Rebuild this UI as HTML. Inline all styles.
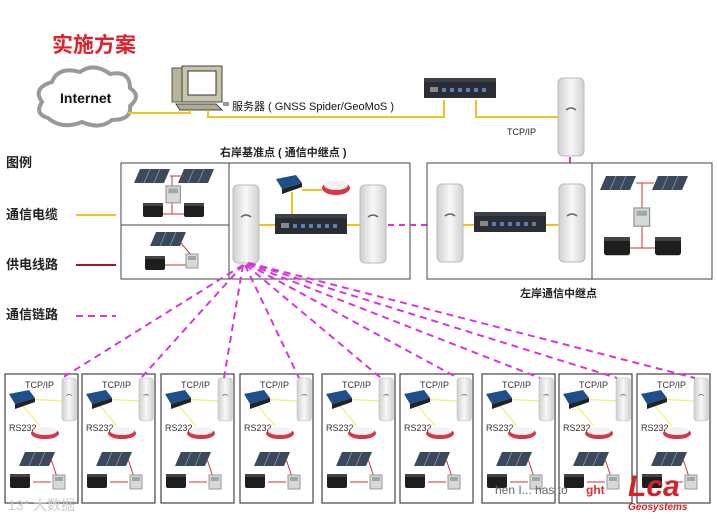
<!DOCTYPE html>
<html><head><meta charset="utf-8"><style>
body{margin:0;background:#fff;width:717px;height:519px;overflow:hidden;font-family:"Liberation Sans","Noto Sans CJK SC",sans-serif}
svg text{font-family:"Liberation Sans","Noto Sans CJK SC",sans-serif}
</style></head><body>
<svg width="717" height="519" viewBox="0 0 717 519" xmlns="http://www.w3.org/2000/svg">
<defs>
<linearGradient id="ant" x1="0" x2="1"><stop offset="0" stop-color="#cfcfcf"/><stop offset=".5" stop-color="#f8f8f8"/><stop offset="1" stop-color="#d0d0d0"/></linearGradient>
<g id="antenna"><rect x="0" y="0" width="26" height="78" rx="5" fill="url(#ant)" stroke="#bbb"/><path d="M8 32 q5 -4 10 0" stroke="#666" fill="none" stroke-width="1.5"/></g>
<g id="switch"><rect x="0" y="0" width="72" height="20" fill="#2a2d33"/><rect x="0" y="0" width="72" height="4" fill="#3c4048"/><g fill="#5a7fb8"><rect x="18" y="10" width="4" height="4"/><rect x="26" y="10" width="4" height="4"/><rect x="34" y="10" width="4" height="4"/><rect x="42" y="10" width="4" height="4"/><rect x="50" y="10" width="4" height="4"/><rect x="58" y="10" width="4" height="4"/></g><rect x="6" y="9" width="8" height="5" fill="#888"/></g>
<g id="panel"><polygon points="6,0 36,0 30,14 0,14" fill="#3a4a5c"/><path d="M16 0 L10 14 M26 0 L20 14" stroke="#8899aa" stroke-width=".8"/></g>
<g id="battery"><rect x="0" y="0" width="20" height="14" rx="2" fill="#1e1e1e"/><rect x="0" y="0" width="20" height="3" fill="#444"/></g>
<g id="ctrl"><rect x="0" y="0" width="12" height="14" fill="#d8d8d8" stroke="#999"/><rect x="2" y="2" width="8" height="4" fill="#9aa"/></g>
<g id="moxa"><polygon points="0,4 20,0 26,8 6,14" fill="#1d4f8a"/><polygon points="6,14 26,8 26,12 6,19" fill="#222"/></g>
<g id="gnss"><ellipse cx="14" cy="8" rx="14" ry="7" fill="#d8344a"/><ellipse cx="14" cy="5" rx="12" ry="5" fill="#f2f2f2"/></g>
<g id="node">
<rect x="0" y="0" width="73" height="129" fill="#fff" stroke="#444" stroke-width="1.2"/>
<line x1="22" y1="25" x2="57" y2="27" stroke="#f4ee70" stroke-width="1.2"/>
<line x1="18" y1="32" x2="35" y2="52" stroke="#f4ee70" stroke-width="1.2"/>
<use href="#antenna" transform="translate(57,4) scale(0.55,0.55)"/>
<text x="20" y="14" font-size="9" fill="#333">TCP/IP</text>
<use href="#moxa" transform="translate(4,16)"/>
<text x="4" y="57" font-size="9" fill="#333">RS232</text>
<use href="#gnss" transform="translate(26,53) scale(1,0.8)"/>
<use href="#panel" transform="translate(14,78)"/>
<line x1="46" y1="85" x2="52" y2="103" stroke="#c33"/>
<line x1="28" y1="108" x2="46" y2="108" stroke="#c33"/>
<use href="#battery" transform="translate(5,100)"/>
<use href="#ctrl" transform="translate(48,101)"/>
</g>
</defs>

<text x="52" y="52" font-size="21" font-weight="bold" fill="#e0202a">实施方案</text>

<!-- cloud -->
<path d="M48 118 q-14 -4 -6 -16 q-10 -14 10 -20 q6 -16 28 -10 q14 -10 30 2 q20 -4 20 14 q12 8 0 18 q2 14 -18 14 q-12 10 -30 2 q-20 8 -34 -4z" fill="#fff" stroke="#999" stroke-width="4"/>
<text x="60" y="103" font-size="14" font-weight="bold" fill="#111">Internet</text>
<!-- computer -->
<rect x="172" y="68" width="10" height="34" fill="#b8b49a" stroke="#555"/>
<rect x="182" y="66" width="40" height="36" fill="#c8c4a8" stroke="#444"/>
<rect x="188" y="71" width="28" height="24" fill="#fff" stroke="#333"/>
<polygon points="176,104 216,104 222,110 180,110" fill="#b0ac92" stroke="#444"/>
<rect x="223" y="102" width="6" height="4" fill="#999"/>
<!-- yellow links top -->
<polyline points="128,113 190,113 190,110" fill="none" stroke="#f2c21a" stroke-width="2"/>
<polyline points="208,110 208,117 444,117 444,100" fill="none" stroke="#f2c21a" stroke-width="2"/>
<polyline points="476,100 476,117 560,117" fill="none" stroke="#f2c21a" stroke-width="2"/>
<text x="232" y="110" font-size="11" fill="#111">服务器 ( GNSS Spider/GeoMoS )</text>
<use href="#switch" transform="translate(424,78)"/>
<use href="#antenna" transform="translate(558,78)"/>
<text x="507" y="135" font-size="9" fill="#222">TCP/IP</text>
<line x1="570" y1="157" x2="570" y2="184" stroke="#dd33dd" stroke-width="2" stroke-dasharray="6,5"/>

<!-- legend -->
<text x="6" y="167" font-size="13" font-weight="bold" fill="#222">图例</text>
<text x="6" y="219" font-size="13" font-weight="bold" fill="#222">通信电缆</text>
<line x1="76" y1="215" x2="116" y2="215" stroke="#f2c21a" stroke-width="2"/>
<text x="6" y="269" font-size="13" font-weight="bold" fill="#222">供电线路</text>
<line x1="76" y1="265" x2="116" y2="265" stroke="#b01020" stroke-width="2"/>
<text x="6" y="319" font-size="13" font-weight="bold" fill="#222">通信链路</text>
<line x1="76" y1="316" x2="116" y2="316" stroke="#dd33dd" stroke-width="2" stroke-dasharray="7,5"/>

<!-- right base -->
<text x="220" y="156" font-size="11" font-weight="bold" fill="#222">右岸基准点 ( 通信中继点 )</text>
<rect x="121" y="163" width="289" height="116" fill="#fff" stroke="#444"/>
<rect x="121" y="163" width="108" height="62" fill="none" stroke="#444"/>
<rect x="121" y="225" width="108" height="54" fill="none" stroke="#444"/>
<use href="#panel" transform="translate(134,169)"/><use href="#panel" transform="translate(178,169)"/>
<line x1="170" y1="176" x2="184" y2="176" stroke="#c33"/>
<line x1="172" y1="176" x2="172" y2="214" stroke="#c33"/>
<line x1="152" y1="214" x2="190" y2="214" stroke="#c33"/>
<use href="#ctrl" transform="translate(166,186) scale(1.2)"/>
<use href="#battery" transform="translate(143,203)"/><use href="#battery" transform="translate(184,203)"/>
<use href="#panel" transform="translate(150,232)"/>
<use href="#battery" transform="translate(145,256)"/>
<line x1="165" y1="265" x2="186" y2="265" stroke="#c33"/>
<line x1="180" y1="242" x2="192" y2="256" stroke="#c33"/>
<use href="#ctrl" transform="translate(186,254)"/>
<use href="#antenna" transform="translate(233,185)"/>
<use href="#antenna" transform="translate(360,185)"/>
<line x1="259" y1="225" x2="275" y2="225" stroke="#f2c21a" stroke-width="2"/>
<line x1="346" y1="225" x2="360" y2="225" stroke="#f2c21a" stroke-width="2"/>
<line x1="292" y1="192" x2="292" y2="214" stroke="#f2c21a" stroke-width="2"/>
<line x1="302" y1="190" x2="322" y2="190" stroke="#f2c21a" stroke-width="2"/>
<use href="#switch" transform="translate(275,214)"/>
<use href="#moxa" transform="translate(276,175)"/>
<use href="#gnss" transform="translate(322,180)"/>
<line x1="388" y1="225" x2="436" y2="225" stroke="#dd33dd" stroke-width="2" stroke-dasharray="6,5"/>

<!-- left relay -->
<rect x="427" y="163" width="285" height="116" fill="#fff" stroke="#444"/>
<line x1="592" y1="163" x2="592" y2="279" stroke="#444"/>
<use href="#antenna" transform="translate(437,184)"/>
<use href="#antenna" transform="translate(559,184)"/>
<line x1="463" y1="225" x2="474" y2="225" stroke="#f2c21a" stroke-width="2"/>
<line x1="545" y1="225" x2="559" y2="225" stroke="#f2c21a" stroke-width="2"/>
<use href="#switch" transform="translate(474,212)"/>
<use href="#panel" transform="translate(600,176)"/><use href="#panel" transform="translate(652,176)"/>
<line x1="636" y1="183" x2="654" y2="183" stroke="#c33"/>
<line x1="642" y1="183" x2="642" y2="248" stroke="#c33"/>
<line x1="620" y1="248" x2="664" y2="248" stroke="#c33"/>
<use href="#ctrl" transform="translate(634,208) scale(1.3)"/>
<use href="#battery" transform="translate(604,237) scale(1.3)"/><use href="#battery" transform="translate(655,237) scale(1.3)"/>
<text x="520" y="297" font-size="11" font-weight="bold" fill="#222">左岸通信中继点</text>

<!-- nodes -->
<use href="#node" x="5" y="374"/>
<use href="#node" x="82" y="374"/>
<use href="#node" x="161" y="374"/>
<use href="#node" x="240" y="374"/>
<use href="#node" x="322" y="374"/>
<use href="#node" x="400" y="374"/>
<use href="#node" x="482" y="374"/>
<use href="#node" x="559" y="374"/>
<use href="#node" x="637" y="374"/>

<g stroke="#dd33dd" stroke-width="2" stroke-dasharray="7,5" fill="none">
<line x1="243" y1="265" x2="62" y2="378"/>
<line x1="243" y1="265" x2="141" y2="378"/>
<line x1="243" y1="265" x2="224" y2="378"/>
<line x1="245" y1="265" x2="299" y2="378"/>
<line x1="246" y1="265" x2="381" y2="378"/>
<line x1="247" y1="264" x2="458" y2="378"/>
<line x1="248" y1="264" x2="540" y2="378"/>
<line x1="248" y1="263" x2="617" y2="378"/>
<line x1="249" y1="263" x2="695" y2="378"/>
</g>

<text x="495" y="494" font-size="12" fill="#666">hen I... has to</text>
<text x="586" y="494" font-size="12" font-weight="bold" fill="#e0303a">ght</text>
<text x="628" y="496" font-size="30" font-style="italic" font-weight="bold" fill="#d8202a" font-family="Liberation Serif,serif">Lca</text>
<text x="628" y="510" font-size="10" font-style="italic" font-weight="bold" fill="#d8202a">Geosystems</text>
<text x="8" y="510" font-size="14" fill="#ccc">13° 大数据</text>
</svg>
</body></html>
